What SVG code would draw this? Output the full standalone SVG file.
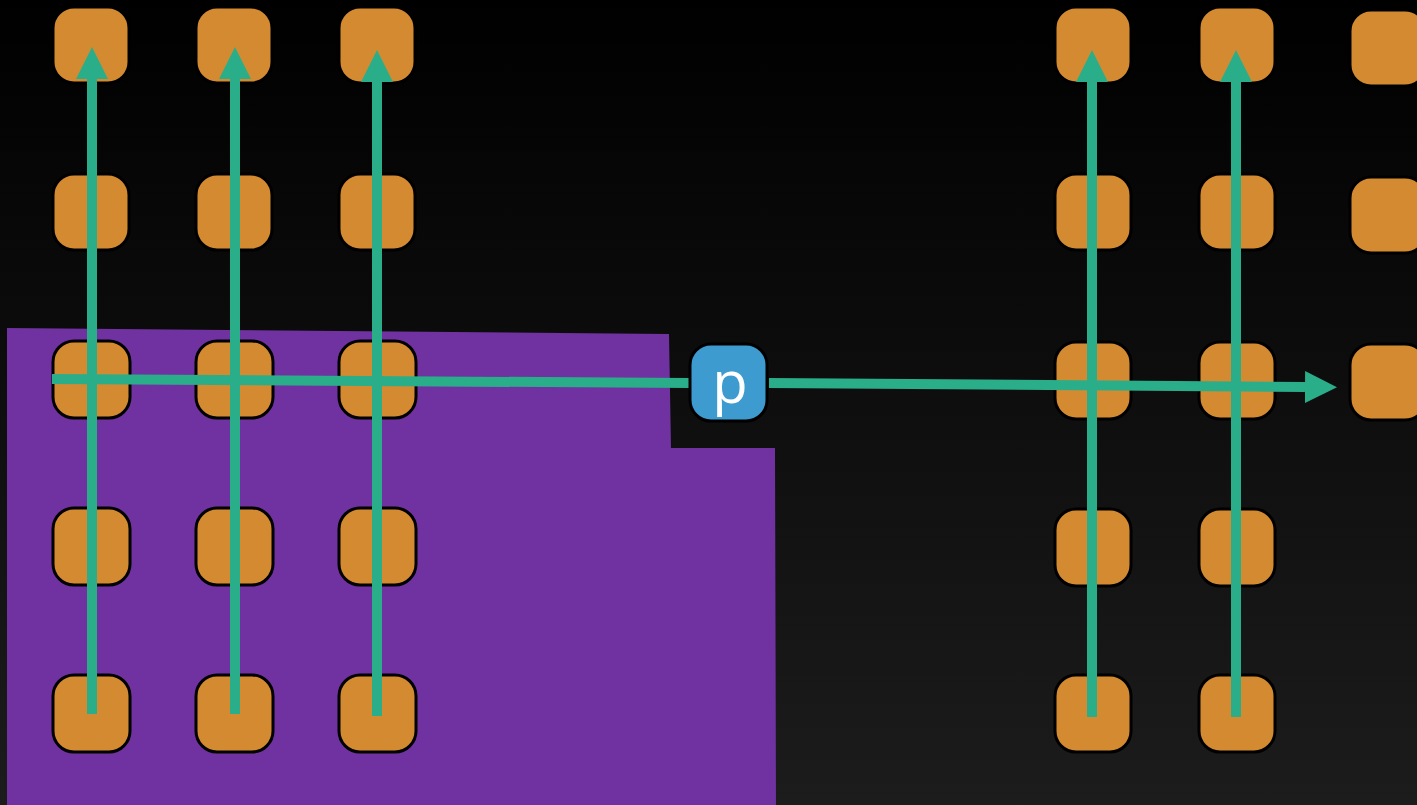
<svg xmlns="http://www.w3.org/2000/svg" width="1417" height="805" viewBox="0 0 1417 805">
<defs>
<linearGradient id="bg" x1="0" y1="0" x2="0" y2="1">
<stop offset="0" stop-color="#000000"/>
<stop offset="1" stop-color="#1c1c1c"/>
</linearGradient>
<marker id="ah" markerUnits="userSpaceOnUse" markerWidth="32" markerHeight="32" refX="0" refY="16" orient="auto" viewBox="0 0 32 32">
<path d="M0,0 L32,16 L0,32 z" fill="#2aae8a"/>
</marker>
<style>
.n{fill:#d48a30;stroke:#000;stroke-width:3}
.b{fill:#3d9bd0;stroke:#000;stroke-width:3}
.c{stroke:#2aae8a;stroke-width:10;fill:none}
.t{font-family:"Open Sans","Liberation Sans",sans-serif;font-size:58px;fill:#fff;text-anchor:middle}
</style>
</defs>
<rect width="1417" height="805" fill="url(#bg)"/>
<polygon id="region" points="7,328 669,334 671,448 775,448 776,805 7,805" fill="#6f32a0"/>
<g id="nodes">
<rect id="n11" class="n" x="53" y="7" width="76" height="76" rx="21"/>
<rect id="n12" class="n" x="196" y="7" width="76" height="76" rx="21"/>
<rect id="n13" class="n" x="339" y="7" width="76" height="76" rx="21"/>
<rect id="n21" class="n" x="53" y="174" width="76" height="76" rx="21"/>
<rect id="n22" class="n" x="196" y="174" width="76" height="76" rx="21"/>
<rect id="n23" class="n" x="339" y="174" width="76" height="76" rx="21"/>
<rect id="n31" class="n" x="53" y="341" width="77" height="77" rx="21"/>
<rect id="n32" class="n" x="196" y="341" width="77" height="77" rx="21"/>
<rect id="n33" class="n" x="339" y="341" width="77" height="77" rx="21"/>
<rect id="n41" class="n" x="53" y="508" width="77" height="77" rx="21"/>
<rect id="n42" class="n" x="196" y="508" width="77" height="77" rx="21"/>
<rect id="n43" class="n" x="339" y="508" width="77" height="77" rx="21"/>
<rect id="n51" class="n" x="53" y="675" width="77" height="77" rx="21"/>
<rect id="n52" class="n" x="196" y="675" width="77" height="77" rx="21"/>
<rect id="n53" class="n" x="339" y="675" width="77" height="77" rx="21"/>
<rect id="m11" class="n" x="1055" y="7" width="76" height="76" rx="21"/>
<rect id="m12" class="n" x="1199" y="7" width="76" height="76" rx="21"/>
<rect id="m13" class="n" x="1350" y="10" width="76" height="76" rx="21"/>
<rect id="m21" class="n" x="1055" y="174" width="76" height="76" rx="21"/>
<rect id="m22" class="n" x="1199" y="174" width="76" height="76" rx="21"/>
<rect id="m23" class="n" x="1350" y="177" width="76" height="76" rx="21"/>
<rect id="m31" class="n" x="1055" y="342" width="76" height="77" rx="21"/>
<rect id="m32" class="n" x="1199" y="342" width="76" height="77" rx="21"/>
<rect id="m33" class="n" x="1350" y="344" width="76" height="76" rx="21"/>
<rect id="m41" class="n" x="1055" y="509" width="76" height="77" rx="21"/>
<rect id="m42" class="n" x="1199" y="509" width="76" height="77" rx="21"/>
<rect id="m51" class="n" x="1055" y="675" width="76" height="77" rx="21"/>
<rect id="m52" class="n" x="1199" y="675" width="76" height="77" rx="21"/>
</g>
<g id="connectors">
<line class="c" x1="92" y1="714" x2="92" y2="79" marker-end="url(#ah)"/>
<line class="c" x1="235" y1="714" x2="235" y2="79" marker-end="url(#ah)"/>
<line class="c" x1="377" y1="716" x2="377" y2="82" marker-end="url(#ah)"/>
<line class="c" x1="1092" y1="717" x2="1092" y2="82" marker-end="url(#ah)"/>
<line class="c" x1="1236" y1="717" x2="1236" y2="82" marker-end="url(#ah)"/>
<line class="c" x1="52" y1="379" x2="689" y2="383"/>
<line class="c" x1="769" y1="383" x2="1305" y2="387" marker-end="url(#ah)"/>
</g>
<g id="p">
<rect class="b" x="690" y="344" width="77" height="77" rx="21"/>
<text class="t" x="730" y="403">p</text>
</g>
</svg>
